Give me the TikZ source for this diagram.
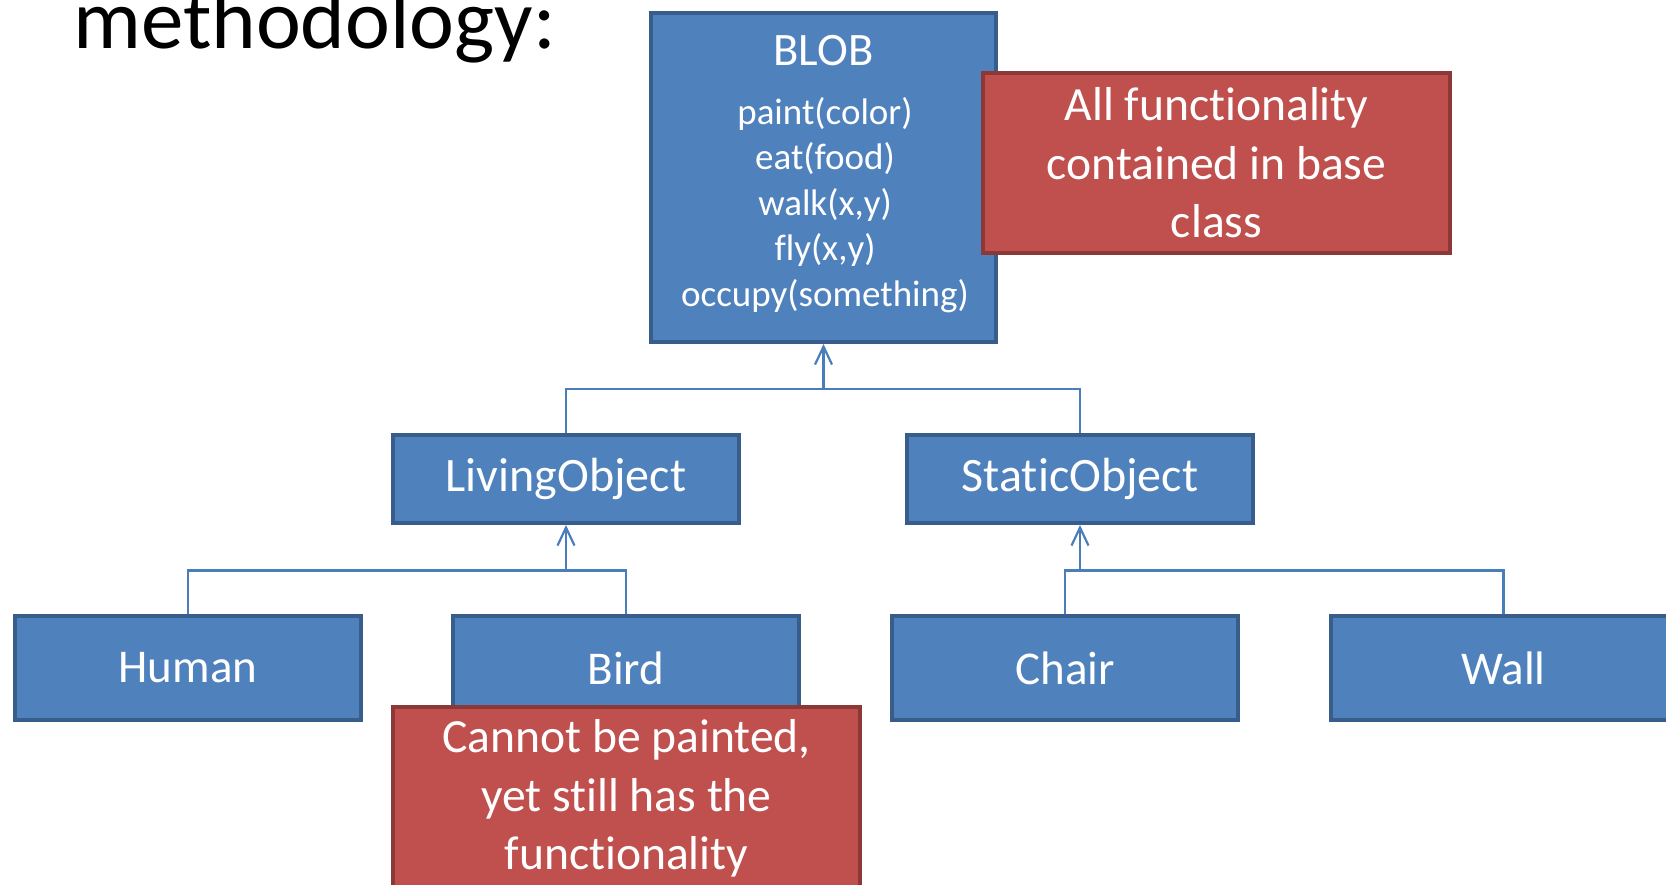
\documentclass[tikz,border=0pt]{standalone}
\usepackage{fontspec}
\setmainfont{Carlito}[Ligatures=NoCommon]
\usetikzlibrary{arrows.meta}
\definecolor{boxfill}{HTML}{4F81BD}
\definecolor{boxline}{HTML}{385D8A}
\definecolor{notefill}{HTML}{C0504D}
\definecolor{noteline}{HTML}{8C3836}
\definecolor{wire}{HTML}{4A7EBB}
\tikzset{
  classbox/.style={draw=boxline, fill=boxfill, line width=4pt, rectangle,
    text=white, inner sep=0pt, align=center},
  levelbox/.style={classbox, minimum width=346pt, minimum height=88pt,
    font=\fontsize{48}{58}\selectfont},
  leafbox/.style={classbox, minimum width=346pt, minimum height=104pt,
    font=\fontsize{47}{57}\selectfont},
  notebox/.style={draw=noteline, fill=notefill, line width=4pt, rectangle,
    text=white, inner sep=0pt, align=center, minimum width=467pt,
    font=\fontsize{47.6}{58.4}\selectfont},
  boxtext/.style={text=white, inner sep=0pt, align=center},
  wirepath/.style={draw=wire, line width=2.2pt},
  inherit/.style={wirepath, -{Straight Barb[length=18pt,width=17pt,line width=2.2pt]}}
}
\begin{document}
\begin{tikzpicture}[x=1pt, y=-1pt]
\useasboundingbox (0,0) rectangle (1666,885);

% heading
\node[anchor=base west, inner sep=0pt, font=\fontsize{85}{100}\selectfont] (title) at (73,49) {methodology:};

% base class
\node[classbox, minimum width=345pt, minimum height=329pt] (blob) at (823.5,177.5) {};
\node[boxtext, font=\fontsize{46.5}{56}\selectfont] (blobname) at (823.5,51) {BLOB};
\node[boxtext, font=\fontsize{37}{45.6}\selectfont] (blobops) at (825,205)
  {paint(color)\\eat(food)\\walk(x,y)\\fly(x,y)\\occupy(something)};

\node[notebox, minimum height=180pt] (basenote) at (1216.5,163)
  {All functionality\\contained in base\\class};

% intermediate classes
\node[levelbox] (living) at (566,479) {LivingObject};
\node[levelbox] (static) at (1080,479) {StaticObject};

% leaf classes
\node[leafbox] (human) at (188,668) {Human};
\node[leafbox] (bird) at (626,668) {Bird};
\node[leafbox] (chair) at (1065,668) {Chair};
\node[leafbox] (wall) at (1503.5,668) {Wall};

% junction points of the inheritance trees
\coordinate (jtop) at (823.5,389);
\coordinate (jliving) at (566,570.5);
\coordinate (jstatic) at (1080,570.5);

\draw[wirepath] (living.north) |- (jtop) -| (static.north);
\draw[inherit] (jtop) -- (blob.south);

\draw[wirepath] (human.north) |- (jliving) -| (bird.north);
\draw[inherit] (jliving) -- (living.south);

\draw[wirepath] (chair.north) |- (jstatic) -| (wall.north);
\draw[inherit] (jstatic) -- (static.south);

% note on the bird
\node[notebox, minimum height=184pt] (birdnote) at (626.5,798.5)
  {Cannot be painted,\\yet still has the\\functionality};
\end{tikzpicture}
\end{document}
